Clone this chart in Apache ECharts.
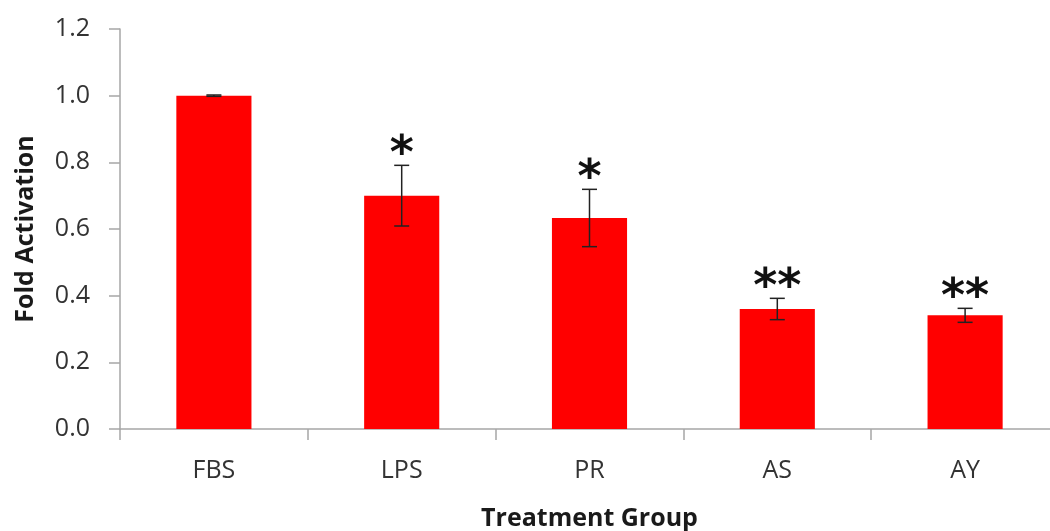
<!DOCTYPE html>
<html>
<head>
<meta charset="utf-8">
<script src="https://cdn.jsdelivr.net/npm/echarts@6/dist/echarts.min.js"></script>
<style>
html,body{margin:0;padding:0;background:#fff;}
#chart{width:1050px;height:531px;}
</style>
</head>
<body>
<div id="chart"></div>
<script>
var categories = ["FBS", "LPS", "PR", "AS", "AY"];
var values = [1.0, 0.70, 0.633, 0.36, 0.341];
var errors = [0.002, 0.091, 0.086, 0.032, 0.021];
var marks = ["", "*", "*", "**", "**"];
var yTicks = [0, 0.2, 0.4, 0.6, 0.8, 1.0, 1.2];

var chart = echarts.init(document.getElementById('chart'));
var errData = categories.map(function (c, i) { return [i, values[i], errors[i]]; });

chart.setOption({
  animation: false,
  backgroundColor: '#ffffff',
  grid: { left: 120, top: 29, width: 939, height: 400, containLabel: false, outerBoundsMode: 'none' },
  xAxis: {
    type: 'category',
    data: categories,
    name: 'Treatment Group',
    nameLocation: 'middle',
    nameGap: 77,
    nameTextStyle: { fontFamily: 'Open Sans', fontWeight: 'bold', fontSize: 25, color: '#1a1a1a' },
    axisLine: { lineStyle: { color: '#a6a6a6', width: 1.5 } },
    axisTick: { show: true, alignWithLabel: false, length: 11, lineStyle: { color: '#a6a6a6', width: 1.5 } },
    axisLabel: { margin: 29, fontFamily: 'Open Sans', fontSize: 25, color: '#333333' }
  },
  yAxis: {
    type: 'value',
    min: yTicks[0],
    max: yTicks[yTicks.length - 1],
    interval: 0.2,
    name: 'Fold Activation',
    nameLocation: 'middle',
    nameGap: 82,
    nameRotate: 90,
    nameTextStyle: { fontFamily: 'Open Sans', fontWeight: 'bold', fontSize: 25, color: '#1a1a1a' },
    axisLine: { show: true, lineStyle: { color: '#a6a6a6', width: 1.5 } },
    axisTick: { show: true, length: 11, lineStyle: { color: '#a6a6a6', width: 1.5 } },
    splitLine: { show: false },
    axisLabel: {
      margin: 30,
      fontFamily: 'Open Sans', fontSize: 25, color: '#333333',
      formatter: function (v) { return v.toFixed(1); }
    }
  },
  series: [
    {
      type: 'bar',
      data: values,
      barWidth: '40%',
      itemStyle: { color: '#ff0000' }
    },
    {
      type: 'custom',
      data: errData,
      z: 10,
      renderItem: function (params, api) {
        var i = api.value(0), v = api.value(1), e = api.value(2);
        var top = api.coord([i, v + e]);
        var bot = api.coord([i, v - e]);
        var hw = 7.5;
        var st = { stroke: '#222222', lineWidth: 1.5 };
        var children = [
          { type: 'line', shape: { x1: top[0], y1: top[1], x2: bot[0], y2: bot[1] }, style: st },
          { type: 'line', shape: { x1: top[0] - hw, y1: top[1], x2: top[0] + hw, y2: top[1] }, style: st },
          { type: 'line', shape: { x1: bot[0] - hw, y1: bot[1], x2: bot[0] + hw, y2: bot[1] }, style: st }
        ];
        var m = marks[params.dataIndex];
        if (m) {
          children.push({
            type: 'text',
            style: {
              text: m, x: top[0], y: top[1] - 9,
              textAlign: 'center', textVerticalAlign: 'middle',
              font: 'bold 46px "DejaVu Sans"', fill: '#111111'
            }
          });
        }
        return { type: 'group', children: children };
      }
    }
  ]
});
</script>
</body>
</html>
